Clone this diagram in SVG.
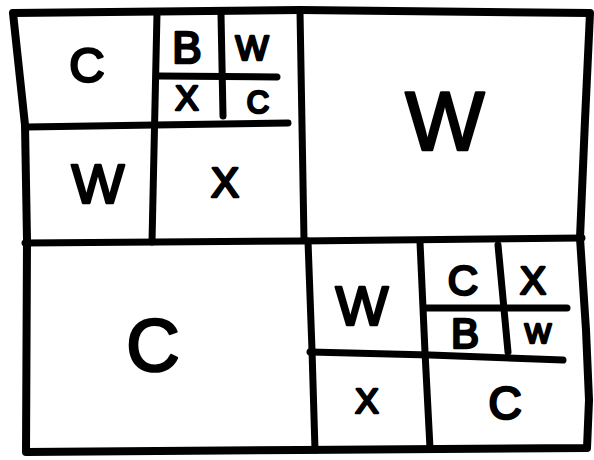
<svg xmlns="http://www.w3.org/2000/svg" width="594" height="460" viewBox="0 0 594 460">
<style>
.ln{fill:none;stroke:#000;stroke-width:7;stroke-linecap:round;stroke-linejoin:round}
.out{stroke-width:8}
.lb{font-family:"Liberation Sans",Arial,sans-serif;font-weight:normal;fill:#000;stroke:#000;stroke-width:2.6;stroke-linejoin:round;text-anchor:middle}
</style>
<rect width="594" height="460" fill="#fff"/>
<g id="connectors">
<path class="ln out" d="M13,13 L300,10 L590,13 L585,120 L580,238 L586,330 L589,400 L587,448 L300,450 L26,452 L27,240 L25,125 Z"/>
<path class="ln" d="M25,243 L300,241 L582,238"/>
<path class="ln" d="M300,11 L304,240"/>
<path class="ln" d="M157,13 L152,242"/>
<path class="ln" d="M27,127 L155,125 L288,123"/>
<path class="ln" d="M159,76 L277,77"/>
<path class="ln" d="M221,14 L223,116"/>
<path class="ln" d="M308,241 L312,350 L315,450"/>
<path class="ln" d="M310,352 L430,355 L563,360"/>
<path class="ln" d="M420,242 L425,352 L430,448"/>
<path class="ln" d="M426,308 L567,308"/>
<path class="ln" d="M498,245 L508,352"/>
</g>
<g id="tl-c"><text class="lb" x="87" y="82" font-size="49">C</text></g>
<g id="tl-b"><text class="lb" x="187" y="63" font-size="44">B</text></g>
<g id="tl-w"><text class="lb" x="252" y="60" font-size="35">W</text></g>
<g id="tl-x"><text class="lb" x="187" y="110" font-size="35">X</text></g>
<g id="tl-c2"><text class="lb" x="258" y="113" font-size="31">C</text></g>
<g id="tl-w2"><text class="lb" x="98" y="203" font-size="56">W</text></g>
<g id="tl-x2"><text class="lb" x="225" y="197" font-size="42">X</text></g>
<g id="tr-w"><text class="lb" x="445" y="150" font-size="84">W</text></g>
<g id="bl-c"><text class="lb" x="153" y="371" font-size="74">C</text></g>
<g id="br-w"><text class="lb" x="362" y="325" font-size="56">W</text></g>
<g id="br-c"><text class="lb" x="463" y="295" font-size="42">C</text></g>
<g id="br-x"><text class="lb" x="533" y="294" font-size="39">X</text></g>
<g id="br-b"><text class="lb" x="465" y="348" font-size="42">B</text></g>
<g id="br-w2"><text class="lb" x="538" y="343" font-size="28">W</text></g>
<g id="br-x2"><text class="lb" x="367" y="413" font-size="35">X</text></g>
<g id="br-c2"><text class="lb" x="505" y="419" font-size="46">C</text></g>
</svg>
